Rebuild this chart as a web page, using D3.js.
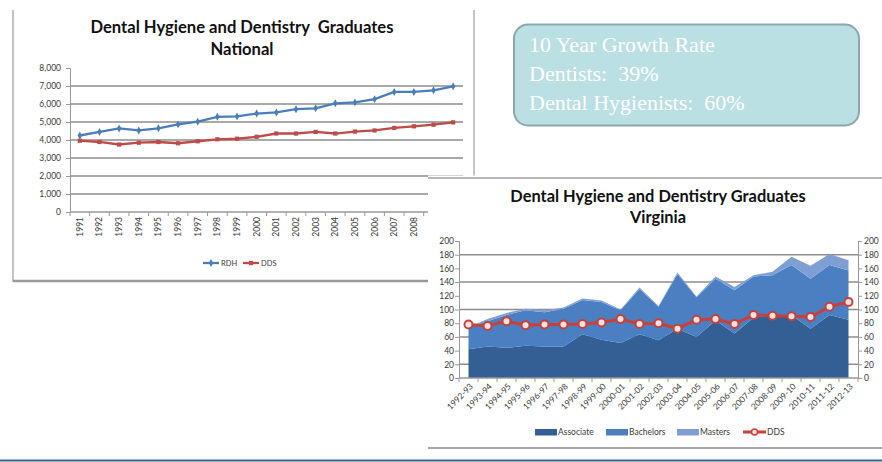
<!DOCTYPE html>
<html><head><meta charset="utf-8">
<script src="https://cdn.jsdelivr.net/npm/d3@7/dist/d3.min.js"></script>
<style>body{margin:0;background:#fff;} svg{display:block;}</style>
</head><body>
<svg id="c" width="882" height="462"></svg>
<script>
// ---------- DATA ----------
const natYears = ["1991","1992","1993","1994","1995","1996","1997","1998","1999","2000",
                  "2001","2002","2003","2004","2005","2006","2007","2008","2009","2010"];
const natRDH = [4250,4450,4640,4530,4650,4870,5020,5290,5310,5470,5530,5710,5760,6040,6090,6270,6670,6670,6760,6980];
const natDDS = [3960,3890,3750,3850,3890,3820,3930,4040,4070,4180,4360,4360,4450,4360,4470,4530,4670,4760,4850,4980];
const natYTicks = [0,1000,2000,3000,4000,5000,6000,7000,8000];
const natGrid = [1000,2000,3000,4000,5000,6000,7000];
const natSeries = ["RDH","DDS"];

const vaYears = ["1992-93","1993-94","1994-95","1995-96","1996-97","1997-98","1998-99","1999-00","2000-01","2001-02",
                 "2002-03","2003-04","2004-05","2005-06","2006-07","2007-08","2008-09","2009-10","2010-11","2011-12","2012-13"];
const vaAssociate = [42,46,44,47,46,46,64,56,51,64,55,72,60,84,65,88,92,92,72,92,85];
const vaBachelors = [32,37,48,52,50,55,50,55,48,66,49,80,58,61,63,60,58,73,73,73,72];
const vaMasters   = [0,3,3,2,3,2,2,2,1,2,1,2,1,3,5,2,5,12,19,16,15];
const vaDDS       = [78,76,83,77,78,78,79,81,86,79,80,72,85,86,79,92,91,90,89,104,111];
const vaYTicks = [0,20,40,60,80,100,120,140,160,180,200];
const vaGrid = [20,60,100,140,180];
const vaSeries = ["Associate","Bachelors","Masters","DDS"];

const natTitle = ["Dental Hygiene and Dentistry  Graduates","National"];
const vaTitle = ["Dental Hygiene and Dentistry Graduates","Virginia"];
const growthText = ["10 Year Growth Rate","Dentists:  39%","Dental Hygienists:  60%"];

// ---------- STYLE ----------
const FONT = "Lato, 'Open Sans', 'DejaVu Sans', sans-serif";
const cBlue = "#4a7ebb", cRed = "#be4b48";
const cAssoc = "#335f95", cBach = "#4a7fc1", cMast = "#7f9fd4", cVaRed = "#c8403a";
const gridC = "#8c8c8c";
const TXT = "#3a3a3a";

const svg = d3.select("#c");

// ================= NATIONAL CHART =================
const nx = d3.scaleBand().domain(natYears).range([70, 463]);
const ny = d3.scaleLinear().domain([0, 8000]).range([212, 68]);
const nat = svg.append("g");

// frame
nat.append("line").attr("x1",13).attr("x2",13).attr("y1",10).attr("y2",282).attr("stroke","#b0b0b0").attr("stroke-width",1.5);
nat.append("line").attr("x1",13).attr("x2",428).attr("y1",281).attr("y2",281).attr("stroke","#9a9a9a").attr("stroke-width",2.5);

// title
nat.append("g").selectAll("text").data(natTitle).join("text")
  .attr("x",242).attr("y",(d,i)=>33+i*22)
  .attr("text-anchor","middle").style("white-space","pre")
  .attr("font-family",FONT).attr("font-weight","bold").attr("font-size",16.6).attr("fill","#111")
  .text(d=>d);

// gridlines
nat.append("g").selectAll("line").data(natGrid).join("line")
  .attr("x1",70).attr("x2",463).attr("y1",d=>ny(d)).attr("y2",d=>ny(d))
  .attr("stroke",gridC).attr("stroke-width",1.3);

// y axis
const nyAxis = d3.axisLeft(ny).tickValues(natYTicks).tickSize(4).tickFormat(d3.format(","));
const gny = nat.append("g").attr("transform","translate(70,0)").call(nyAxis);
gny.select(".domain").attr("stroke","#999");
gny.selectAll(".tick line").attr("stroke","#999");
gny.selectAll("text").attr("font-family",FONT).attr("font-size",8.5).attr("fill",TXT).attr("x",-9);

// x axis
nat.append("line").attr("x1",70).attr("x2",463).attr("y1",212).attr("y2",212).attr("stroke","#999").attr("stroke-width",1.3);
nat.append("g").selectAll("line").data(natYears.concat(["end"])).join("line")
  .attr("x1",(d,i)=>70+i*nx.step()).attr("x2",(d,i)=>70+i*nx.step())
  .attr("y1",212).attr("y2",216).attr("stroke","#999");
nat.append("g").selectAll("text").data(natYears).join("text")
  .attr("transform",d=>`translate(${nx(d)+nx.bandwidth()/2},217) rotate(-90)`)
  .attr("text-anchor","end").attr("dy","0.35em")
  .attr("font-family",FONT).attr("font-size",8.5).attr("fill",TXT)
  .text(d=>d);

// lines
const nline = d3.line().x((d,i)=>nx(natYears[i])+nx.bandwidth()/2).y(d=>ny(d));
const natData = [{name:"RDH",vals:natRDH,c:cBlue,sym:d3.symbolDiamond},{name:"DDS",vals:natDDS,c:cRed,sym:d3.symbolSquare}];
natData.forEach(s=>{
  nat.append("path").attr("d",nline(s.vals)).attr("fill","none").attr("stroke",s.c).attr("stroke-width",2.3);
  nat.append("g").selectAll("path").data(s.vals).join("path")
    .attr("transform",(d,i)=>`translate(${nx(natYears[i])+nx.bandwidth()/2},${ny(d)})`)
    .attr("d",d3.symbol().type(s.sym).size(18)).attr("fill",s.c);
});

// legend
const nlg = nat.append("g");
natData.forEach((s,i)=>{
  const x0 = 203 + i*40;
  nlg.append("line").attr("x1",x0).attr("x2",x0+16).attr("y1",263).attr("y2",263).attr("stroke",s.c).attr("stroke-width",2.3);
  nlg.append("path").attr("transform",`translate(${x0+8},263)`).attr("d",d3.symbol().type(s.sym).size(18)).attr("fill",s.c);
  nlg.append("text").attr("x",x0+18).attr("y",263).attr("dy","0.35em")
    .attr("font-family",FONT).attr("font-size",7.5).attr("fill",TXT).text(natSeries[i]);
});

// divider
svg.append("line").attr("x1",474).attr("x2",474).attr("y1",10).attr("y2",178).attr("stroke","#c0c0c0").attr("stroke-width",1.8);

// ================= TEXT BOX =================
svg.append("rect").attr("x",514).attr("y",24.5).attr("width",345).attr("height",101).attr("rx",14)
  .attr("fill","#bbe0e3").attr("stroke","#8aa8aa").attr("stroke-width",2);
svg.append("g").selectAll("text").data(growthText).join("text")
  .attr("x",529).attr("y",(d,i)=>52+i*29).style("white-space","pre")
  .attr("font-family","'Liberation Serif','DejaVu Serif',serif").attr("font-size",22).attr("fill","#ffffff")
  .text(d=>d);

// ================= VIRGINIA CHART =================
const va = svg.append("g");
va.append("rect").attr("x",428).attr("y",175.5).attr("width",454).attr("height",286).attr("fill","#fff");
va.append("line").attr("x1",428).attr("x2",882).attr("y1",178).attr("y2",178).attr("stroke","#a0a0a0").attr("stroke-width",1.5);
va.append("line").attr("x1",428).attr("x2",882).attr("y1",448).attr("y2",448).attr("stroke","#8a8a8a").attr("stroke-width",1.3);

va.append("g").selectAll("text").data(vaTitle).join("text")
  .attr("x",658).attr("y",(d,i)=>202+i*21)
  .attr("text-anchor","middle")
  .attr("font-family",FONT).attr("font-weight","bold").attr("font-size",16.4).attr("fill","#111")
  .text(d=>d);

const vx = d3.scaleBand().domain(vaYears).range([459, 858]);
const vy = d3.scaleLinear().domain([0, 200]).range([378, 241]);
const vcx = d => vx(d) + vx.bandwidth()/2;

// gridlines
va.append("g").selectAll("line").data(vaGrid).join("line")
  .attr("x1",459).attr("x2",858).attr("y1",d=>vy(d)).attr("y2",d=>vy(d))
  .attr("stroke",gridC).attr("stroke-width",1.5);

// stacked areas
const rows = vaYears.map((y,i)=>({year:y, Associate:vaAssociate[i], Bachelors:vaBachelors[i], Masters:vaMasters[i]}));
const stack = d3.stack().keys(["Associate","Bachelors","Masters"])(rows);
const areaGen = d3.area().x(d=>vcx(d.data.year)).y0(d=>vy(d[0])).y1(d=>vy(d[1]));
const areaCols = [cAssoc, cBach, cMast];
va.append("g").selectAll("path").data(stack).join("path")
  .attr("d",areaGen).attr("fill",(d,i)=>areaCols[i]);

// axes
const vyL = d3.axisLeft(vy).tickValues(vaYTicks).tickSize(4);
const gvl = va.append("g").attr("transform","translate(459,0)").call(vyL);
const vyR = d3.axisRight(vy).tickValues(vaYTicks).tickSize(4);
const gvr = va.append("g").attr("transform","translate(858,0)").call(vyR);
[gvl,gvr].forEach(g=>{
  g.select(".domain").attr("stroke","#999");
  g.selectAll(".tick line").attr("stroke","#999");
  g.selectAll("text").attr("font-family",FONT).attr("font-size",8.5).attr("fill",TXT);
});
gvl.selectAll("text").attr("x",-5);
gvr.selectAll("text").attr("x",6);

va.append("line").attr("x1",459).attr("x2",858).attr("y1",378).attr("y2",378).attr("stroke","#999").attr("stroke-width",1.3);
va.append("g").selectAll("line").data(vaYears.concat(["end"])).join("line")
  .attr("x1",(d,i)=>459+i*vx.step()).attr("x2",(d,i)=>459+i*vx.step())
  .attr("y1",378).attr("y2",382).attr("stroke","#999");
va.append("g").selectAll("text").data(vaYears).join("text")
  .attr("transform",d=>`translate(${vcx(d)+3},385) rotate(-45)`)
  .attr("text-anchor","end").attr("dy","0.35em")
  .attr("font-family",FONT).attr("font-size",8.5).attr("fill",TXT)
  .text(d=>d);

// DDS line
const vline = d3.line().x((d,i)=>vcx(vaYears[i])).y(d=>vy(d));
va.append("path").attr("d",vline(vaDDS)).attr("fill","none").attr("stroke",cVaRed).attr("stroke-width",3);
va.append("g").selectAll("circle").data(vaDDS).join("circle")
  .attr("cx",(d,i)=>vcx(vaYears[i])).attr("cy",d=>vy(d)).attr("r",4)
  .attr("fill","#f6e2e1").attr("stroke",cVaRed).attr("stroke-width",2);

// legend
const vlg = va.append("g");
const sw = [{x:535,c:cAssoc},{x:606,c:cBach},{x:677,c:cMast}];
sw.forEach((s,i)=>{
  vlg.append("rect").attr("x",s.x).attr("y",429).attr("width",22).attr("height",6.5).attr("fill",s.c);
  vlg.append("text").attr("x",s.x+23).attr("y",432).attr("dy","0.35em")
    .attr("font-family",FONT).attr("font-size",8.5).attr("fill",TXT).text(vaSeries[i]);
});
vlg.append("line").attr("x1",743).attr("x2",766).attr("y1",432).attr("y2",432).attr("stroke",cVaRed).attr("stroke-width",3);
vlg.append("circle").attr("cx",754.5).attr("cy",432).attr("r",3).attr("fill","#f6e2e1").attr("stroke",cVaRed).attr("stroke-width",1.5);
vlg.append("text").attr("x",767).attr("y",432).attr("dy","0.35em")
  .attr("font-family",FONT).attr("font-size",8.5).attr("fill",TXT).text(vaSeries[3]);

// bottom rule
svg.append("line").attr("x1",0).attr("x2",882).attr("y1",460.5).attr("y2",460.5).attr("stroke","#3d6788").attr("stroke-width",2);
</script>
</body></html>
